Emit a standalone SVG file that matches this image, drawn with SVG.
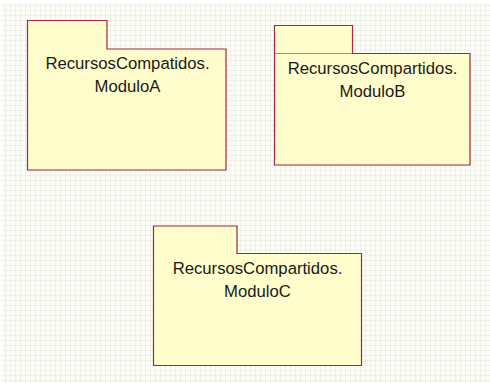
<svg xmlns="http://www.w3.org/2000/svg" width="490" height="383" viewBox="0 0 490 383">
  <style>
    .pkg { fill: #fffdcb; stroke: #a8243f; stroke-width: 1.2; }
    .tabline { stroke: #d07a8a; stroke-width: 1; }
    .lbl { font-family: "Liberation Sans", Arial, sans-serif; font-size: 16.7px; fill: #1a1a1a; text-anchor: middle; }
  </style>
  <defs>
    <pattern id="grid" width="5" height="5" patternUnits="userSpaceOnUse">
      <rect width="5" height="5" fill="#fcfdf9"/>
      <path d="M0 0.5H5M0.5 0V5" stroke="#edf1e5" stroke-width="1" fill="none"/>
    </pattern>
  </defs>

  <!-- drawing canvas -->
  <rect width="490" height="383" fill="#ffffff"/>
  <rect x="2" y="3" width="488" height="380" fill="url(#grid)"/>

  <!-- package A -->
  <g id="moduloA">
    <path class="pkg" d="M27.5 20.5H107V49H226V170H27.5Z"/>
    <text class="lbl" x="127.5" y="69">RecursosCompatidos.</text>
    <text class="lbl" x="127.5" y="91.5">ModuloA</text>
  </g>

  <!-- package B -->
  <g id="moduloB">
    <path class="pkg" d="M274.5 25.5H352.5V53.5H470V165H274.5Z"/>
    <line class="tabline" x1="275" y1="53.5" x2="352" y2="53.5"/>
    <text class="lbl" x="372.5" y="74">RecursosCompartidos.</text>
    <text class="lbl" x="372.5" y="96.5">ModuloB</text>
  </g>

  <!-- package C -->
  <g id="moduloC">
    <path class="pkg" d="M153.5 226H237V253.5H361.5V365.5H153.5Z"/>
    <text class="lbl" x="257.5" y="274">RecursosCompartidos.</text>
    <text class="lbl" x="257.5" y="296.5">ModuloC</text>
  </g>

  <!-- no connectors between the packages -->
  <g id="connectors"/>
</svg>
